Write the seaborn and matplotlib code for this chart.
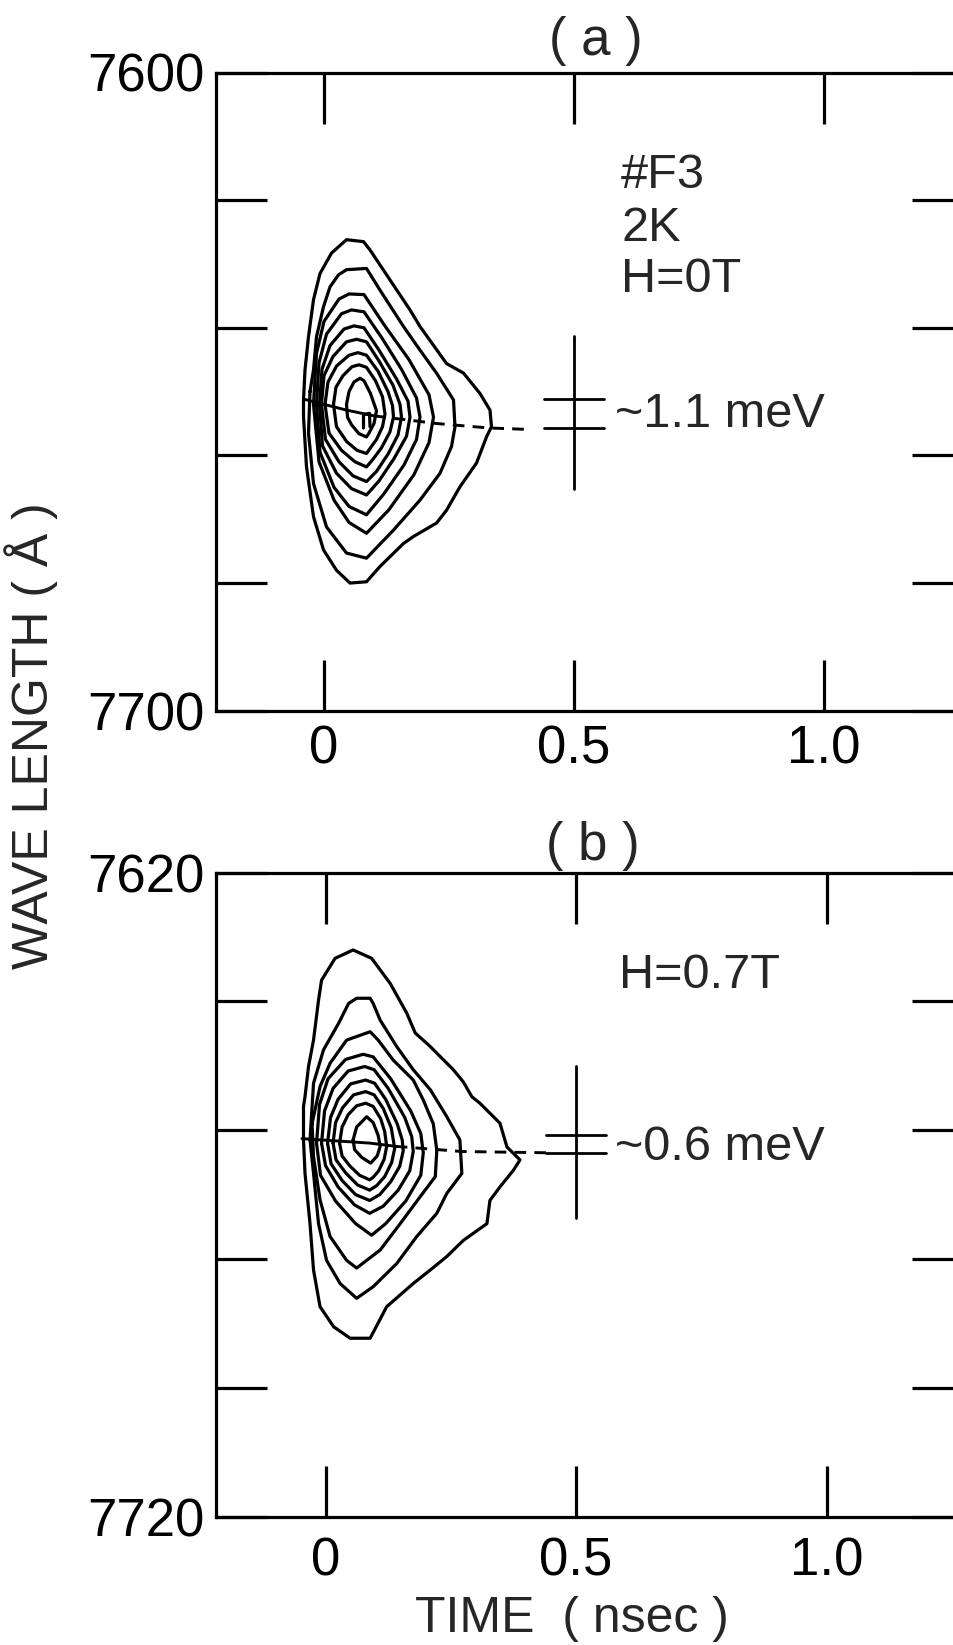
import numpy as np
import pandas as pd
import matplotlib
matplotlib.use("Agg")
import matplotlib.pyplot as plt
import seaborn as sns

# ---------------- data ----------------
# time (nsec), wavelength (Angstrom)
xticks_t = [0, 0.5, 1.0]
xtick_labels = ["0", "0.5", "1.0"]
ylim_a = [7600, 7700]
ylim_b = [7620, 7720]

# panel (a) contour lines, outer -> inner
a_c1 = [(-0.041,7651.3),(-0.038,7646.6),(-0.031,7641.4),(-0.021,7635.6),(-0.008,7631.5),(0.015,7628.3),
        (0.045,7626.2),(0.079,7626.5),(0.092,7627.8),(0.132,7632.5),(0.172,7637.2),(0.192,7639.8),
        (0.245,7645.6),(0.279,7647.1),(0.312,7650.3),(0.332,7652.9),(0.335,7655.5),(0.325,7657.1),
        (0.305,7661.2),(0.272,7664.9),(0.245,7668.6),(0.225,7670.6),(0.179,7672.7),(0.159,7673.8),
        (0.112,7677.4),(0.085,7679.8),(0.052,7680.0),(0.025,7678.0),(-0.001,7674.8),(-0.021,7669.6),
        (-0.035,7661.8),(-0.041,7653.9)]
a_c2 = [(-0.028,7650.0),(-0.021,7646.6),(-0.015,7641.4),(-0.001,7636.7),(0.012,7633.6),(0.029,7631.7),
        (0.045,7630.9),(0.085,7630.7),(0.112,7634.1),(0.159,7639.8),(0.192,7643.5),(0.225,7647.1),
        (0.259,7651.3),(0.262,7655.5),(0.255,7658.6),(0.232,7662.8),(0.192,7667.0),(0.139,7671.7),
        (0.085,7676.1),(0.045,7675.3),(0.005,7671.2),(-0.021,7664.4),(-0.031,7656.5)]
a_c3 = [(-0.021,7652.0),(-0.015,7644.0),(0.0,7639.0),(0.03,7635.5),(0.05,7634.7),(0.08,7634.8),
        (0.12,7639.5),(0.17,7645.0),(0.21,7650.5),(0.219,7654.0),(0.21,7658.0),(0.18,7663.0),
        (0.13,7668.5),(0.085,7672.2),(0.05,7670.5),(0.02,7667.0),(-0.01,7661.0)]
a_c4 = [(-0.015,7652.0),(-0.01,7645.5),(0.005,7641.0),(0.035,7637.8),(0.055,7637.2),(0.08,7637.5),
        (0.115,7641.5),(0.155,7646.5),(0.185,7651.0),(0.192,7654.0),(0.185,7657.5),(0.16,7661.5),
        (0.12,7666.0),(0.085,7669.3),(0.05,7668.0),(0.02,7665.0),(-0.008,7659.5)]
a_c5 = [(-0.009,7652.0),(-0.004,7646.5),(0.012,7642.8),(0.04,7640.2),(0.06,7639.7),(0.08,7640.0),
        (0.11,7643.5),(0.145,7648.0),(0.168,7651.5),(0.172,7654.0),(0.165,7657.0),(0.14,7660.5),
        (0.11,7664.0),(0.085,7666.2),(0.055,7665.2),(0.025,7662.8),(-0.003,7658.5)]
a_c6 = [(-0.005,7652.0),(0.0,7647.5),(0.018,7644.5),(0.045,7642.2),(0.065,7641.8),(0.085,7642.2),
        (0.11,7645.2),(0.138,7649.0),(0.152,7652.0),(0.155,7654.0),(0.148,7656.8),(0.128,7659.8),
        (0.105,7662.5),(0.085,7664.1),(0.058,7663.2),(0.03,7661.0),(0.003,7657.5)]
a_c7 = [(0.002,7652.0),(0.008,7648.5),(0.025,7646.0),(0.05,7644.3),(0.068,7643.9),(0.085,7644.3),
        (0.108,7646.8),(0.128,7650.0),(0.137,7652.2),(0.139,7654.0),(0.132,7656.3),(0.115,7658.8),
        (0.098,7660.6),(0.085,7661.8),(0.062,7661.0),(0.035,7659.2),(0.01,7656.5)]
a_c8 = [(0.019,7652.0),(0.024,7649.3),(0.038,7647.5),(0.056,7646.1),(0.07,7645.8),(0.085,7646.2),
        (0.103,7648.3),(0.117,7650.8),(0.122,7653.5),(0.117,7655.5),(0.105,7657.5),(0.093,7658.8),
        (0.085,7659.7),(0.066,7659.2),(0.045,7657.8),(0.025,7655.5)]
a_c9 = [(0.045,7652.0),(0.05,7650.0),(0.06,7648.5),(0.072,7647.9),(0.08,7648.3),(0.093,7650.3),
        (0.105,7653.0),(0.1,7655.0),(0.09,7656.5),(0.085,7657.1),(0.07,7656.6),(0.055,7655.2),
        (0.047,7654.0)]
a_peak = [(0.079,7655.7),(0.079,7653.6),(0.091,7653.4),(0.092,7655.5)]
a_trace_solid = [(-0.040,7651.2),(0.045,7652.9),(0.10,7653.8)]
a_trace_dash = [(0.10,7653.8),(0.225,7655.0),(0.33,7655.7),(0.40,7655.9)]

# panel (b) contour lines, outer -> inner
b_c1 = [(-0.044,7656.3),(-0.041,7654.8),(-0.034,7650.1),(-0.024,7646.0),(-0.014,7639.8),(-0.008,7636.7),
        (0.019,7633.3),(0.055,7632.0),(0.092,7633.3),(0.129,7637.2),(0.162,7641.8),(0.179,7644.9),
        (0.209,7647.0),(0.255,7650.6),(0.275,7652.5),(0.292,7654.8),(0.308,7655.8),(0.348,7658.9),
        (0.362,7662.6),(0.388,7664.6),(0.375,7666.2),(0.348,7668.8),(0.328,7670.9),(0.322,7674.5),
        (0.275,7677.1),(0.242,7679.6),(0.209,7681.7),(0.175,7683.8),(0.122,7687.4),(0.089,7692.3),
        (0.049,7692.3),(0.016,7690.5),(-0.011,7687.4),(-0.024,7681.7),(-0.031,7674.5),(-0.041,7666.7),
        (-0.044,7661.5)]
b_c2 = [(-0.031,7661.5),(-0.024,7652.7),(-0.004,7647.5),(0.026,7643.4),(0.046,7640.3),(0.062,7639.5),
        (0.089,7639.5),(0.095,7640.3),(0.109,7642.9),(0.142,7647.0),(0.175,7650.6),(0.209,7653.7),
        (0.242,7657.9),(0.268,7661.5),(0.272,7666.7),(0.242,7669.8),(0.222,7672.9),(0.182,7676.5),
        (0.142,7680.7),(0.095,7684.3),(0.062,7686.1),(0.029,7683.8),(0.002,7680.2),(-0.014,7674.5),
        (-0.024,7666.7)]
b_c3 = [(-0.027,7659.0),(-0.011,7653.2),(0.009,7649.6),(0.042,7646.0),(0.089,7644.7),(0.105,7646.0),
        (0.135,7649.1),(0.175,7652.2),(0.195,7655.3),(0.215,7659.0),(0.222,7663.1),(0.219,7667.2),
        (0.189,7670.3),(0.149,7674.5),(0.109,7678.6),(0.062,7681.4),(0.042,7680.2),(0.009,7676.5),
        (-0.011,7670.8),(-0.024,7664.1)]
b_c4 = [(-0.018,7662.0),(-0.012,7656.0),(0.005,7652.0),(0.04,7649.0),(0.075,7648.2),(0.095,7648.6),
        (0.13,7652.0),(0.17,7657.0),(0.19,7660.5),(0.195,7663.5),(0.19,7667.0),(0.16,7671.0),
        (0.12,7674.5),(0.092,7676.3),(0.06,7674.5),(0.02,7671.0),(-0.01,7667.0)]
b_c5 = [(-0.008,7662.0),(-0.002,7657.0),(0.015,7653.5),(0.045,7650.8),(0.078,7650.1),(0.097,7650.6),
        (0.125,7653.5),(0.158,7658.0),(0.172,7661.0),(0.175,7663.3),(0.168,7666.3),(0.145,7669.3),
        (0.115,7671.8),(0.088,7672.9),(0.058,7671.6),(0.025,7668.8),(0.0,7665.5)]
b_c6 = [(0.004,7662.0),(0.01,7658.0),(0.025,7655.2),(0.05,7652.8),(0.08,7652.2),(0.098,7652.7),
        (0.12,7655.2),(0.143,7659.0),(0.153,7661.5),(0.155,7663.2),(0.148,7665.6),(0.13,7668.0),
        (0.108,7670.0),(0.088,7670.9),(0.06,7670.0),(0.033,7667.8),(0.011,7665.2)]
b_c7 = [(0.015,7662.0),(0.02,7658.8),(0.034,7656.5),(0.056,7654.5),(0.08,7654.0),(0.097,7654.5),
        (0.115,7656.6),(0.131,7659.6),(0.138,7662.8),(0.132,7665.0),(0.118,7667.2),(0.102,7668.6),
        (0.088,7669.3),(0.064,7668.5),(0.04,7666.6),(0.021,7664.6)]
b_c8 = [(0.028,7662.0),(0.033,7659.5),(0.045,7657.6),(0.062,7656.2),(0.08,7655.8),(0.095,7656.3),
        (0.11,7658.2),(0.118,7660.2),(0.122,7662.5),(0.117,7664.5),(0.106,7666.3),(0.095,7667.3),
        (0.088,7667.7),(0.068,7667.0),(0.048,7665.5),(0.033,7664.0)]
b_c9 = [(0.055,7661.5),(0.062,7659.5),(0.082,7657.9),(0.095,7658.8),(0.105,7660.8),(0.109,7662.5),
        (0.103,7664.0),(0.09,7665.1),(0.072,7664.2),(0.058,7663.0)]
b_trace_solid = [(-0.047,7661.3),(0.089,7662.0),(0.14,7662.5)]
b_trace_dash = [(0.14,7662.5),(0.272,7663.3),(0.445,7663.5)]

# linewidth markers (t, vertical span, two horizontal levels)
a_bar_t = 0.5
a_bar_span = [7641.3, 7665.3]
a_bar_levels = [7651.1, 7655.7]
b_bar_t = 0.5
b_bar_span = [7650.0, 7673.6]
b_bar_levels = [7660.7, 7663.5]
bar_halfwidth = 0.06

a_width_label = "~1.1 meV"
b_width_label = "~0.6 meV"
a_info = ["#F3", "2K", "H=0T"]
a_info_lam = [7616.1, 7624.4, 7632.4]
b_info = ["H=0.7T"]
b_info_lam = [7635.9]

# ---------------- drawing ----------------
sns.set_style("white")
plt.rcParams["font.family"] = ["Liberation Sans", "DejaVu Sans"]
FS = 35
TFS = 38
LFS = 36

fig = plt.figure(figsize=(9.54, 16.45), dpi=100)
W, H = 954.0, 1645.0
ax_a = fig.add_axes([216 / W, 1 - 710.7 / H, 747 / W, 638.2 / H])
ax_b = fig.add_axes([216 / W, 1 - 1516.6 / H, 747 / W, 643.9 / H])

LW = 2.3


def contour_frame(contours, closed=True):
    rows = []
    for i, c in enumerate(contours):
        pts = list(c) + ([c[0]] if closed else [])
        for t, l in pts:
            rows.append({"t": t, "lam": l, "level": i})
    return pd.DataFrame(rows)


def draw_panel(ax, contours, peak, solid, dash, bar_t, bar_span, bar_levels,
               ylim, xlim, label_pad):
    df = contour_frame(contours)
    sns.lineplot(data=df, x="t", y="lam", units="level", estimator=None, sort=False,
                 color="black", lw=LW, legend=False, ax=ax)
    if peak is not None:
        pk = contour_frame([peak], closed=False)
        sns.lineplot(data=pk, x="t", y="lam", estimator=None, sort=False,
                     color="black", lw=LW, legend=False, ax=ax)
    s = pd.DataFrame(solid, columns=["t", "lam"])
    sns.lineplot(data=s, x="t", y="lam", estimator=None, sort=False,
                 color="black", lw=2.1, legend=False, ax=ax)
    d = pd.DataFrame(dash, columns=["t", "lam"])
    sns.lineplot(data=d, x="t", y="lam", estimator=None, sort=False,
                 color="black", lw=2.1, linestyle=(0, (4.0, 2.8)), legend=False, ax=ax)
    ax.plot([bar_t, bar_t], bar_span, color="black", lw=2.0)
    for lv in bar_levels:
        ax.plot([bar_t - bar_halfwidth, bar_t + bar_halfwidth], [lv, lv],
                color="black", lw=2.0)

    ax.set_xlim(*xlim)
    ax.set_ylim(ylim[1], ylim[0])
    yt = list(range(ylim[0], ylim[1] + 1, 20))
    ax.set_yticks(yt)
    ax.set_yticklabels([str(ylim[0])] + [""] * (len(yt) - 2) + [str(ylim[1])])
    ax.set_xticks(xticks_t)
    ax.set_xticklabels(xtick_labels)
    ax.tick_params(axis="both", direction="in", length=37, width=2.3, colors="black",
                   top=True, right=True, bottom=True, left=True, labelsize=TFS)
    ax.tick_params(axis="x", pad=label_pad)
    ax.tick_params(axis="y", pad=8)
    for sp in ax.spines.values():
        sp.set_linewidth(2.3)
        sp.set_color("black")
    ax.set_xlabel("")
    ax.set_ylabel("")
    ax.set_facecolor("white")


draw_panel(ax_a, [a_c1, a_c2, a_c3, a_c4, a_c5, a_c6, a_c7, a_c8, a_c9], a_peak,
           a_trace_solid, a_trace_dash, a_bar_t, a_bar_span, a_bar_levels,
           ylim_a, (-0.216, 1.278), 10)
draw_panel(ax_b, [b_c1, b_c2, b_c3, b_c4, b_c5, b_c6, b_c7, b_c8, b_c9], None,
           b_trace_solid, b_trace_dash, b_bar_t, b_bar_span, b_bar_levels,
           ylim_b, (-0.2186, 1.272), 14)

# annotations
for txt, lam in zip(a_info, a_info_lam):
    ax_a.text(0.594, lam, txt, fontsize=FS, ha="left", va="center")
ax_a.text(0.582, 7653.6, a_width_label, fontsize=FS, ha="left", va="center")
for txt, lam in zip(b_info, b_info_lam):
    ax_b.text(0.586, lam, txt, fontsize=FS, ha="left", va="center")
ax_b.text(0.578, 7662.7, b_width_label, fontsize=FS, ha="left", va="center")

fig.text(596 / W, 1 - 41 / H, "( a )", fontsize=TFS, ha="center", va="center")
fig.text(593 / W, 1 - 846 / H, "( b )", fontsize=TFS, ha="center", va="center")
fig.text(572 / W, 1 - 1619 / H, "TIME  ( nsec )", fontsize=LFS, ha="center", va="center")
fig.text(31 / W, 1 - 736 / H, "WAVE LENGTH ( Å )", fontsize=LFS, ha="center",
         va="center", rotation=90)

fig.savefig("out.png", dpi=100, facecolor="white")
